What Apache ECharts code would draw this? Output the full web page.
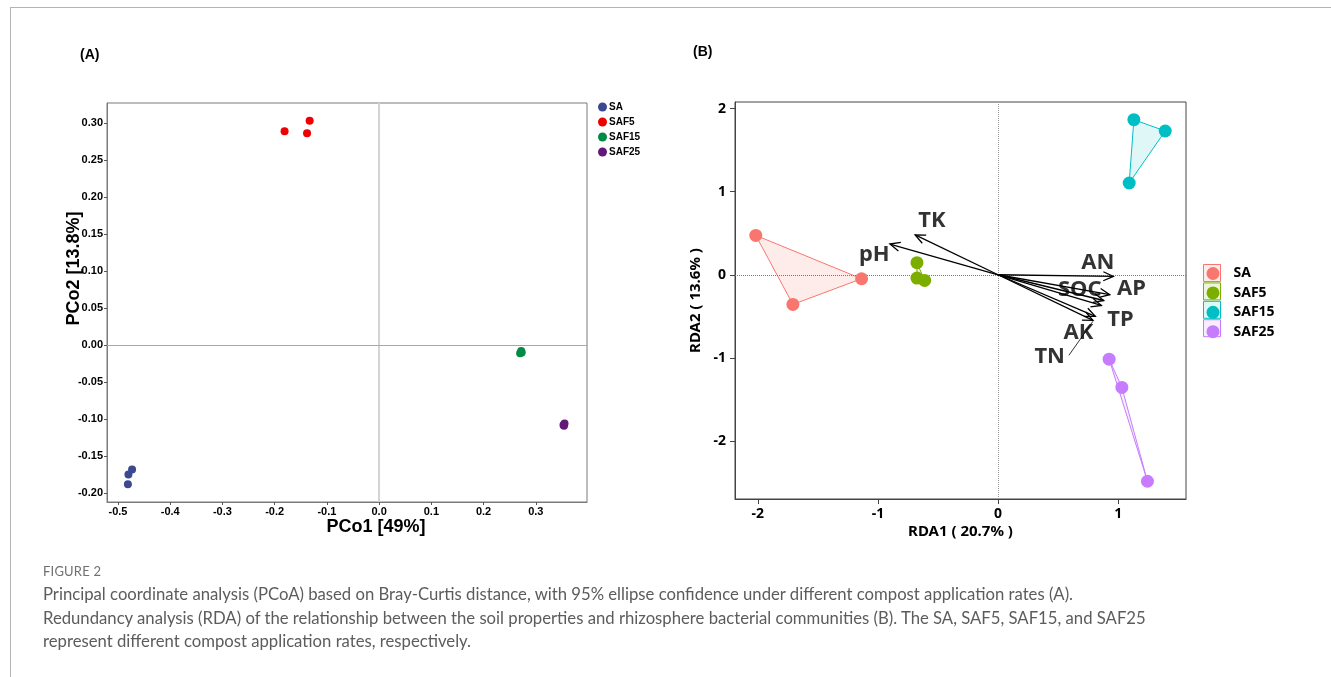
<!DOCTYPE html>
<html>
<head>
<meta charset="utf-8">
<script src="https://cdn.jsdelivr.net/npm/echarts@6/dist/echarts.min.js"></script>
<style>
	html, body {
		margin: 0;
		padding: 0;
		background: #fff;
	}
	.page {
		position: relative;
		width: 1331px;
		height: 677px;
		overflow: hidden;
	}
	.frame {
		position: absolute;
		left: 10px;
		top: 7px;
		right: -2px;
		bottom: -2px;
		border-top: 1px solid #b4b4b4;
		border-left: 1px solid #b4b4b4;
	}
	#chart {
		position: absolute;
		left: 0;
		top: 0;
		width: 1331px;
		height: 677px;
	}
	.caption {
		position: absolute;
		left: 43px;
		font-family: Lato, "Open Sans", sans-serif;
		color: #5c5c5c;
	}
	.figNo {
		top: 563px;
		font-size: 13px;
		letter-spacing: 0.2px;
		color: #707070;
	}
	.figText {
		top: 583px;
		font-size: 16.7px;
		line-height: 23.5px;
		font-weight: 400;
	}
</style>
</head>
<body>
<div class="page">
	<div class="frame"></div>
	<div id="chart"></div>
	<div class="caption figNo">FIGURE 2</div>
	<div class="caption figText">
		Principal coordinate analysis (PCoA) based on Bray-Curtis distance, with 95% ellipse confidence under different compost application rates (A).<br>
		Redundancy analysis (RDA) of the relationship between the soil properties and rhizosphere bacterial communities (B). The SA, SAF5, SAF15, and SAF25<br>
		represent different compost application rates, respectively.
	</div>
</div>
<script>
// groups
const groups = ["SA", "SAF5", "SAF15", "SAF25"];

// (A) PCoA scores
const pcoaSA_x = [-0.481, -0.480, -0.473];
const pcoaSA_y = [-0.188, -0.175, -0.168];
const pcoaSAF5_x = [-0.181, -0.138, -0.133];
const pcoaSAF5_y = [0.289, 0.286, 0.303];
const pcoaSAF15_x = [0.270, 0.272, 0.273];
const pcoaSAF15_y = [-0.011, -0.008, -0.010];
const pcoaSAF25_x = [0.353, 0.355, 0.354];
const pcoaSAF25_y = [-0.108, -0.106, -0.109];
const pcoaTicksX = [-0.5, -0.4, -0.3, -0.2, -0.1, 0.0, 0.1, 0.2, 0.3];
const pcoaTicksY = [-0.20, -0.15, -0.10, -0.05, 0.00, 0.05, 0.10, 0.15, 0.20, 0.25, 0.30];

// (B) RDA site scores
const rdaSA_x = [-2.017, -1.708, -1.136];
const rdaSA_y = [0.474, -0.357, -0.048];
const rdaSAF5_x = [-0.675, -0.675, -0.611];
const rdaSAF5_y = [0.145, -0.040, -0.068];
const rdaSAF15_x = [1.131, 1.392, 1.092];
const rdaSAF15_y = [1.867, 1.731, 1.105];
const rdaSAF25_x = [0.925, 1.031, 1.244];
const rdaSAF25_y = [-1.016, -1.357, -2.486];
const rdaTicksX = [-2, -1, 0, 1];
const rdaTicksY = [-2, -1, 0, 1, 2];

// (B) environmental arrows
const envNames = ["pH", "TK", "AN", "AP", "SOC", "TP", "AK", "TN"];
const envRDA1 = [-0.90, -0.69, 0.96, 0.93, 0.88, 0.86, 0.81, 0.79];
const envRDA2 = [0.37, 0.48, -0.02, -0.24, -0.31, -0.37, -0.50, -0.55];
const envLabelRDA1 = [-1.03, -0.55, 0.83, 1.11, 0.68, 1.02, 0.67, 0.43];
const envLabelRDA2 = [0.24, 0.65, 0.15, -0.17, -0.18, -0.54, -0.70, -0.99];
const tnLeaderRDA1 = [0.59, 0.79];
const tnLeaderRDA2 = [-0.97, -0.56];

const pcoaColors = ["#3B4992", "#EE0000", "#008B45", "#631879"];
const rdaColors = ["#F8766D", "#7CAE00", "#00BFC4", "#C77CFF"];
const rdaFills = ["rgba(248,118,109,0.14)", "rgba(124,174,0,0.14)", "rgba(0,191,196,0.12)", "rgba(199,124,255,0.14)"];

const pcoaX = [pcoaSA_x, pcoaSAF5_x, pcoaSAF15_x, pcoaSAF25_x];
const pcoaY = [pcoaSA_y, pcoaSAF5_y, pcoaSAF15_y, pcoaSAF25_y];
const rdaX = [rdaSA_x, rdaSAF5_x, rdaSAF15_x, rdaSAF25_x];
const rdaY = [rdaSA_y, rdaSAF5_y, rdaSAF15_y, rdaSAF25_y];

const zip = (xs, ys) => xs.map((x, i) => [x, ys[i]]);

const fontA = "Liberation Sans, Arial, sans-serif";
const fontB = "Noto Sans, sans-serif";

const pcoaSeries = groups.map((g, i) => {
	const s = {
		name: "A_" + g,
		type: "scatter",
		xAxisIndex: 0,
		yAxisIndex: 0,
		symbolSize: 8,
		itemStyle: {color: pcoaColors[i], opacity: 1},
		data: zip(pcoaX[i], pcoaY[i]),
		z: 5
	};
	if (i === 0) {
		s.markLine = {
			silent: true,
			symbol: "none",
			label: {show: false},
			z: 1,
			data: [
				{xAxis: 0, lineStyle: {color: "#d4d4d4", width: 2, type: "solid"}},
				{yAxis: 0, lineStyle: {color: "#a8a8a8", width: 1, type: "solid"}}
			]
		};
	}
	return s;
});

const hullSeries = groups.map((g, i) => ({
	type: "custom",
	xAxisIndex: 1,
	yAxisIndex: 1,
	silent: true,
	z: 2,
	encode: {x: [0, 2, 4], y: [1, 3, 5]},
	data: [[rdaX[i][0], rdaY[i][0], rdaX[i][1], rdaY[i][1], rdaX[i][2], rdaY[i][2]]],
	renderItem: (params, api) => {
		const pts = [0, 1, 2].map(k => api.coord([api.value(2 * k), api.value(2 * k + 1)]));
		return {
			type: "polygon",
			shape: {points: pts},
			style: {fill: rdaFills[i], stroke: rdaColors[i], lineWidth: 1}
		};
	}
}));

const rdaSeries = groups.map((g, i) => {
	const s = {
		name: g,
		type: "scatter",
		xAxisIndex: 1,
		yAxisIndex: 1,
		symbolSize: 13,
		itemStyle: {color: rdaColors[i], opacity: 1},
		data: zip(rdaX[i], rdaY[i]),
		z: 6
	};
	if (i === 0) {
		s.markLine = {
			silent: true,
			symbol: "none",
			label: {show: false},
			data: [
				{xAxis: 0, lineStyle: {color: "#999", width: 1, type: "dotted"}},
				{yAxis: 0, lineStyle: {color: "#777", width: 1, type: "dotted"}}
			]
		};
	}
	return s;
});

const arrowSeries = {
	type: "custom",
	xAxisIndex: 1,
	yAxisIndex: 1,
	silent: true,
	z: 7,
	data: zip(envRDA1, envRDA2),
	renderItem: (params, api) => {
		const o = api.coord([0, 0]);
		const t = api.coord([api.value(0), api.value(1)]);
		const ang = Math.atan2(t[1] - o[1], t[0] - o[0]);
		const h = 11, a = 0.42;
		const p1 = [t[0] - h * Math.cos(ang - a), t[1] - h * Math.sin(ang - a)];
		const p2 = [t[0] - h * Math.cos(ang + a), t[1] - h * Math.sin(ang + a)];
		return {
			type: "group",
			children: [
				{type: "line", shape: {x1: o[0], y1: o[1], x2: t[0], y2: t[1]}, style: {stroke: "#000", lineWidth: 1.3}},
				{type: "polyline", shape: {points: [p1, t, p2]}, style: {stroke: "#000", fill: null, lineWidth: 1.3}}
			]
		};
	}
};

const envLabelSeries = {
	type: "scatter",
	xAxisIndex: 1,
	yAxisIndex: 1,
	silent: true,
	symbolSize: 0,
	z: 8,
	data: envNames.map((n, i) => [envLabelRDA1[i], envLabelRDA2[i], n]),
	label: {
		show: true,
		position: "inside",
		formatter: p => p.value[2],
		color: "#000",
		textBorderWidth: 0,
		fontFamily: fontB,
		fontWeight: "bold",
		fontSize: 22
	}
};

const leaderSeries = {
	type: "line",
	xAxisIndex: 1,
	yAxisIndex: 1,
	silent: true,
	symbol: "none",
	z: 7,
	lineStyle: {color: "#000", width: 0.8},
	data: zip(tnLeaderRDA1, tnLeaderRDA2)
};

const chart = echarts.init(document.getElementById("chart"));
const option = {
	animation: false,
	graphic: [
		{type: "text", left: 80, top: 48, style: {text: "(A)", font: "bold 14px " + fontA, fill: "#000"}},
		{type: "text", left: 693, top: 45, style: {text: "(B)", font: "bold 14px " + fontA, fill: "#000"}},
		...groups.map((g, i) => ({
			type: "rect",
			z: -1,
			shape: {x: 1203.5, y: 264.5 + i * 18.4, width: 17, height: 17},
			style: {fill: rdaFills[i], stroke: rdaColors[i], lineWidth: 1}
		}))
	],
	legend: [
		{
			data: groups.map(g => "A_" + g),
			orient: "vertical",
			left: 598,
			top: 102,
			padding: 0,
			itemWidth: 9,
			itemHeight: 9,
			itemGap: 5,
			icon: "circle",
			selectedMode: false,
			formatter: n => n.slice(2),
			textStyle: {fontFamily: fontA, fontWeight: "bold", fontSize: 10, color: "#000", padding: [0, 0, 0, -3]}
		},
		{
			data: groups,
			orient: "vertical",
			left: 1206.5,
			top: 266.5,
			padding: 0,
			itemWidth: 13,
			itemHeight: 13,
			itemGap: 5.4,
			icon: "circle",
			selectedMode: false,
			textStyle: {fontFamily: fontB, fontWeight: "bold", fontSize: 14, color: "#000", padding: [0, 0, 0, 9]}
		}
	],
	grid: [
		{left: 107, top: 103, width: 480, height: 399, show: true, borderColor: "#7a7a7a", borderWidth: 1, containLabel: false},
		{left: 735, top: 102, width: 451, height: 397, show: true, borderColor: "#444", borderWidth: 1, containLabel: false}
	],
	xAxis: [
		{
			gridIndex: 0,
			type: "value",
			min: -0.521,
			max: 0.398,
			name: "PCo1 [49%]",
			nameLocation: "middle",
			nameGap: 16,
			nameMoveOverlap: false,
			nameTextStyle: {fontFamily: fontA, fontWeight: "bold", fontSize: 18, color: "#000", padding: [0, 0, 0, 58]},
			axisLine: {show: true, onZero: false, lineStyle: {color: "#7a7a7a"}},
			axisTick: {show: true, length: 3, customValues: pcoaTicksX, lineStyle: {color: "#555"}},
			axisLabel: {
				customValues: pcoaTicksX,
				margin: 4,
				formatter: v => v.toFixed(1),
				fontFamily: fontA,
				fontWeight: "bold",
				fontSize: 11,
				color: "#000"
			},
			splitLine: {show: false}
		},
		{
			gridIndex: 1,
			type: "value",
			min: -2.19,
			max: 1.565,
			name: "RDA1 ( 20.7% )",
			nameLocation: "middle",
			nameGap: 25,
			nameMoveOverlap: false,
			nameTextStyle: {fontFamily: fontB, fontWeight: "bold", fontSize: 15, color: "#000"},
			axisLine: {show: true, onZero: false, lineStyle: {color: "#444"}},
			axisTick: {show: true, length: 5, customValues: rdaTicksX, lineStyle: {color: "#444"}},
			axisLabel: {
				customValues: rdaTicksX,
				margin: 8,
				fontFamily: fontB,
				fontWeight: "bold",
				fontSize: 14,
				color: "#000"
			},
			splitLine: {show: false}
		}
	],
	yAxis: [
		{
			gridIndex: 0,
			type: "value",
			min: -0.212,
			max: 0.327,
			name: "PCo2 [13.8%]",
			nameLocation: "middle",
			nameGap: 24,
			nameMoveOverlap: false,
			nameTextStyle: {fontFamily: fontA, fontWeight: "bold", fontSize: 18, color: "#000", padding: [0, 0, 0, 68]},
			axisLine: {show: true, onZero: false, lineStyle: {color: "#7a7a7a"}},
			axisTick: {show: true, length: 3, customValues: pcoaTicksY, lineStyle: {color: "#555"}},
			axisLabel: {
				customValues: pcoaTicksY,
				margin: 4,
				formatter: v => v.toFixed(2),
				fontFamily: fontA,
				fontWeight: "bold",
				fontSize: 11,
				color: "#000"
			},
			splitLine: {show: false}
		},
		{
			gridIndex: 1,
			type: "value",
			min: -2.70,
			max: 2.08,
			name: "RDA2 ( 13.6% )",
			nameLocation: "middle",
			nameGap: 32,
			nameMoveOverlap: false,
			nameTextStyle: {fontFamily: fontB, fontWeight: "bold", fontSize: 15, color: "#000"},
			axisLine: {show: true, onZero: false, lineStyle: {color: "#444"}},
			axisTick: {show: true, length: 5, customValues: rdaTicksY, lineStyle: {color: "#444"}},
			axisLabel: {
				customValues: rdaTicksY,
				margin: 9,
				fontFamily: fontB,
				fontWeight: "bold",
				fontSize: 14,
				color: "#000"
			},
			splitLine: {show: false}
		}
	],
	series: [...pcoaSeries, ...hullSeries, ...rdaSeries, arrowSeries, leaderSeries, envLabelSeries]
};
chart.setOption(option);
</script>
</body>
</html>
